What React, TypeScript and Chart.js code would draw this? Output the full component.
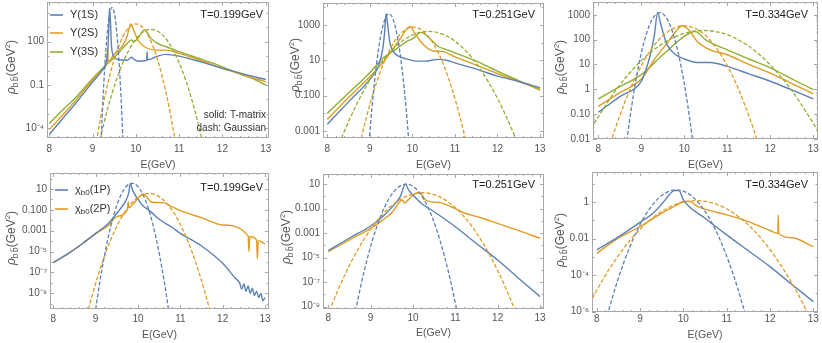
import React, { useEffect, useRef } from "react";
import { Chart, registerables } from "chart.js";
Chart.register(...registerables);

// ---------------- data (E in GeV, value = log10 of rho in GeV^2) ----------------
const E_TICKS = [8, 9, 10, 11, 12, 13];
const E_TICK_LABELS = ["8", "9", "10", "11", "12", "13"];
const TEMPS = ["T=0.199GeV", "T=0.251GeV", "T=0.334GeV"];
const UPS_NAMES = ["Υ(1S)", "Υ(2S)", "Υ(3S)"];
const CHI_STATES = ["(1P)", "(2P)"];

const Y_EXP_T199_UPS = [2, -1, -4];
const Y_LAB_T199_UPS = ["100", "0.1", "10⁻⁴"];
const Y_EXP_T251_UPS = [3, 1, -1, -3];
const Y_LAB_T251_UPS = ["1000", "10", "0.100", "0.001"];
const Y_EXP_T334_UPS = [3, 2, 1, 0, -1, -2];
const Y_LAB_T334_UPS = ["1000", "100", "10", "1", "0.10", "0.01"];
const Y_EXP_CHI_LOW = [1, -1, -3, -5, -7, -9];
const Y_LAB_CHI_LOW = ["10", "0.100", "0.001", "10⁻⁵", "10⁻⁷", "10⁻⁹"];
const Y_EXP_T334_CHI = [0, -2, -4, -6];
const Y_LAB_T334_CHI = ["1", "0.01", "10⁻⁴", "10⁻⁶"];

// T = 0.199 GeV, Upsilon
const Y1S_T199_TM = [[8,-4.43],[8.3,-3.35],[8.6,-2.3],[9,-0.8],[9.2,-0.08],[9.3,0.45],[9.34,1.0],[9.37,2.5],[9.39,4.3],[9.41,3.6],[9.44,1.6],[9.5,0.95],[9.6,0.75],[9.8,0.72],[9.9,0.92],[9.95,0.8],[10.05,0.65],[10.2,0.68],[10.25,0.7],[10.26,1.3],[10.27,0.75],[10.5,1.0],[10.7,1.12],[11,1.0],[11.5,0.6],[12,0.15],[12.5,-0.25],[13,-0.62]];
const Y2S_T199_TM = [[8,-4.09],[8.3,-3.1],[8.6,-2.1],[9,-0.65],[9.2,0.0],[9.33,0.55],[9.35,1.5],[9.36,0.6],[9.5,1.15],[9.7,1.75],[9.8,2.4],[9.88,3.23],[9.95,2.8],[10.05,2.1],[10.2,1.65],[10.5,1.42],[10.7,1.42],[11,1.19],[11.5,0.7],[12,0.15],[12.5,-0.3],[13,-0.78]];
const Y3S_T199_TM = [[8,-3.67],[8.3,-2.75],[8.6,-1.9],[9,-0.55],[9.3,0.35],[9.5,0.9],[9.8,1.88],[9.9,2.12],[9.95,2.0],[10.05,2.25],[10.2,2.81],[10.35,2.23],[10.5,1.88],[10.7,1.65],[11,1.31],[11.5,0.8],[12,0.26],[12.5,-0.35],[12.7,-0.55],[13,-1.0]];
const Y1S_T199_G = [[9.17,-7.0],[9.2,-4.68],[9.24,-2.0],[9.28,0.19],[9.32,1.93],[9.36,3.21],[9.4,4.02],[9.45,4.38],[9.5,4.02],[9.54,3.21],[9.58,1.93],[9.62,0.19],[9.66,-2.0],[9.7,-4.68],[9.73,-7.0]];
const Y2S_T199_G = [[9.0,-6.57],[9.1,-4.7],[9.2,-3.04],[9.3,-1.57],[9.4,-0.3],[9.5,0.78],[9.6,1.66],[9.7,2.35],[9.8,2.84],[9.9,3.13],[10,3.23],[10.1,3.13],[10.2,2.84],[10.3,2.35],[10.4,1.66],[10.5,0.78],[10.6,-0.3],[10.7,-1.57],[10.8,-3.04],[10.9,-4.7],[11.0,-6.57]];
const Y3S_T199_G = [[9.05,-6.4],[9.15,-5.05],[9.35,-2.63],[9.55,-0.65],[9.75,0.88],[9.95,1.98],[10.15,2.64],[10.35,2.86],[10.55,2.64],[10.75,1.98],[10.95,0.88],[11.15,-0.65],[11.35,-2.63],[11.55,-5.05],[11.65,-6.4]];

// T = 0.251 GeV, Upsilon
const Y1S_T251_TM = [[8,-2.61],[8.5,-1.35],[9,-0.08],[9.2,0.66],[9.3,1.6],[9.35,2.63],[9.38,3.62],[9.42,3.0],[9.47,2.0],[9.55,1.5],[9.7,1.2],[9.9,1.05],[10.1,0.95],[10.3,0.95],[10.6,1.05],[10.8,1.0],[11,0.85],[11.5,0.5],[12,0.1],[12.5,-0.2],[13,-0.55]];
const Y2S_T251_TM = [[8,-2.33],[8.5,-1.1],[9,0.07],[9.3,0.85],[9.5,1.5],[9.7,2.16],[9.85,2.7],[9.95,2.9],[10.05,2.55],[10.15,2.2],[10.3,1.79],[10.5,1.52],[10.7,1.5],[11,1.19],[11.5,0.72],[12,0.25],[12.5,-0.2],[13,-0.64]];
const Y3S_T251_TM = [[8,-2.0],[8.5,-0.85],[9,0.29],[9.3,1.1],[9.6,1.6],[9.9,2.1],[10.0,2.2],[10.2,2.57],[10.4,2.25],[10.6,1.79],[10.8,1.6],[11,1.41],[11.5,0.95],[12,0.38],[12.5,-0.15],[13,-0.68]];
const Y1S_T251_G = [[8.95,-4.63],[9.05,-1.66],[9.15,0.65],[9.25,2.3],[9.35,3.29],[9.45,3.62],[9.55,3.29],[9.65,2.3],[9.75,0.65],[9.85,-1.66],[9.95,-4.63]];
const Y2S_T251_G = [[8.62,-5.4],[8.82,-3.18],[9.02,-1.33],[9.22,0.18],[9.42,1.36],[9.62,2.2],[9.82,2.7],[10.02,2.87],[10.22,2.7],[10.42,2.2],[10.62,1.36],[10.82,0.18],[11.02,-1.33],[11.22,-3.18],[11.42,-5.4]];
const Y3S_T251_G = [[8.18,-4.34],[8.38,-3.13],[8.78,-1.06],[9.18,0.56],[9.58,1.71],[9.98,2.4],[10.38,2.63],[10.78,2.4],[11.18,1.71],[11.58,0.56],[11.98,-1.06],[12.38,-3.13],[12.58,-4.34]];

// T = 0.334 GeV, Upsilon
const Y1S_T334_TM = [[8,-0.93],[8.5,-0.3],[9,0.32],[9.1,0.75],[9.2,1.32],[9.3,2.13],[9.38,3.09],[9.45,2.65],[9.52,2.2],[9.6,1.79],[9.8,1.39],[10,1.22],[10.3,1.08],[10.6,1.08],[11,0.92],[11.5,0.62],[12,0.32],[12.5,-0.03],[13,-0.39]];
const Y2S_T334_TM = [[8,-0.69],[8.5,-0.14],[9,0.41],[9.3,1.19],[9.6,1.86],[9.8,2.33],[9.95,2.56],[10.1,2.4],[10.3,1.93],[10.6,1.59],[11,1.39],[11.5,1.0],[12,0.65],[12.5,0.23],[13,-0.19]];
const Y3S_T334_TM = [[8,-0.39],[8.5,0.1],[9,0.59],[9.5,1.39],[10,2.13],[10.25,2.33],[10.5,1.99],[10.8,1.73],[11,1.59],[11.5,1.22],[12,0.86],[12.5,0.42],[13,-0.02]];
const Y1S_T334_G = [[8.63,-2.57],[8.73,-1.24],[8.83,-0.09],[8.93,0.88],[9.03,1.68],[9.13,2.29],[9.23,2.74],[9.33,3.0],[9.43,3.09],[9.53,3.0],[9.63,2.74],[9.73,2.29],[9.83,1.68],[9.93,0.88],[10.03,-0.09],[10.13,-1.24],[10.23,-2.57]];
const Y2S_T334_G = [[8.2,-2.66],[8.4,-1.56],[8.8,0.24],[9.2,1.53],[9.6,2.3],[10,2.56],[10.4,2.3],[10.8,1.53],[11.2,0.24],[11.6,-1.56],[11.8,-2.66]];
const Y3S_T334_G = [[7.9,-1.38],[8.45,0.06],[8.95,1.07],[9.45,1.79],[9.95,2.23],[10.45,2.37],[10.95,2.23],[11.45,1.79],[11.95,1.07],[12.45,0.06],[12.95,-1.24],[13.1,-1.68]];

// T = 0.199 GeV, chi_b0
const C1P_T199_TM = [[8,-6.06],[8.35,-5.2],[8.7,-4.2],[9,-3.25],[9.3,-2.3],[9.5,-1.33],[9.7,-0.21],[9.78,0.6],[9.82,1.54],[9.87,0.9],[10,0.0],[10.1,-0.53],[10.3,-1.17],[10.5,-1.9],[10.8,-2.67],[11,-3.25],[11.5,-4.46],[12,-6.12],[12.3,-7.56],[12.4,-8.0],[12.45,-8.6],[12.5,-8.1],[12.55,-8.8],[12.6,-8.3],[12.65,-9.0],[12.7,-8.5],[12.75,-9.2],[12.8,-8.8],[12.85,-9.4],[12.9,-9.0],[12.95,-9.7],[13.0,-9.4]];
const C2P_T199_TM = [[8,-6.06],[8.35,-5.2],[8.7,-4.2],[9,-3.3],[9.3,-2.5],[9.5,-1.65],[9.75,-0.95],[9.77,-0.21],[9.79,-0.8],[9.9,-0.37],[10.0,0.1],[10.12,0.52],[10.3,-0.21],[10.4,-0.3],[10.6,-0.31],[10.8,-0.69],[11,-1.08],[11.5,-1.75],[12,-2.45],[12.6,-3.5],[12.62,-5.0],[12.64,-3.55],[12.8,-3.9],[12.82,-5.65],[12.84,-3.95],[13,-4.27]];
const C1P_T199_G = [[9.0,-10.52],[9.1,-7.87],[9.2,-5.56],[9.3,-3.57],[9.4,-1.91],[9.5,-0.57],[9.6,0.44],[9.7,1.12],[9.78,1.44],[9.86,1.54],[9.94,1.44],[10.02,1.12],[10.12,0.44],[10.22,-0.57],[10.32,-1.91],[10.42,-3.57],[10.52,-5.56],[10.62,-7.87],[10.72,-10.52]];
const C2P_T199_G = [[8.76,-11.64],[8.86,-10.06],[9.06,-7.24],[9.26,-4.85],[9.46,-2.9],[9.66,-1.37],[9.86,-0.29],[10.06,0.36],[10.26,0.58],[10.46,0.36],[10.66,-0.29],[10.86,-1.37],[11.06,-2.9],[11.26,-4.85],[11.46,-7.24],[11.66,-10.06],[11.76,-11.64]];

// T = 0.251 GeV, chi_b0
const C1P_T251_TM = [[8,-4.43],[8.5,-3.4],[9,-2.42],[9.3,-1.6],[9.5,-0.9],[9.7,-0.03],[9.82,1.0],[9.9,0.5],[10,0.1],[10.2,-0.58],[10.5,-1.26],[11,-2.48],[11.5,-3.85],[12,-5.2],[12.5,-6.7],[13,-8.18]];
const C2P_T251_TM = [[8,-4.52],[8.5,-3.55],[9,-2.61],[9.3,-1.9],[9.5,-1.34],[9.75,-0.3],[9.8,-0.55],[9.9,-0.25],[10.0,0.1],[10.15,0.29],[10.3,-0.3],[10.45,-0.45],[10.65,-0.52],[10.9,-0.85],[11.2,-1.34],[11.6,-1.75],[12,-2.21],[12.5,-2.8],[13,-3.43]];
const C1P_T251_G = [[8.64,-9.37],[8.84,-6.2],[9.04,-3.61],[9.24,-1.59],[9.44,-0.15],[9.64,0.71],[9.84,1.0],[10.04,0.71],[10.24,-0.15],[10.44,-1.59],[10.64,-3.61],[10.84,-6.2],[11.04,-9.37]];
const C2P_T251_G = [[7.92,-10.29],[8.22,-7.71],[8.62,-4.83],[9.02,-2.59],[9.42,-0.99],[9.82,-0.03],[10.22,0.29],[10.62,-0.03],[11.02,-0.99],[11.42,-2.59],[11.82,-4.83],[12.22,-7.71],[12.52,-10.29]];

// T = 0.334 GeV, chi_b0
const C1P_T334_TM = [[8,-2.61],[8.5,-1.9],[9,-1.1],[9.3,-0.6],[9.5,-0.1],[9.75,0.59],[9.8,0.64],[9.9,0.64],[10,0.13],[10.5,-0.88],[11,-1.79],[11.5,-2.66],[12,-3.53],[12.5,-4.5],[13,-5.45]];
const C2P_T334_TM = [[8,-2.8],[8.5,-1.97],[9,-1.33],[9.5,-0.6],[9.85,-0.15],[10.0,0.04],[10.15,0.04],[10.3,-0.2],[10.5,-0.38],[11,-0.69],[11.5,-1.06],[12,-1.55],[12.18,-1.7],[12.19,-0.69],[12.2,-1.72],[12.5,-1.95],[13,-2.43]];
const C1P_T334_G = [[8.24,-6.23],[8.44,-4.61],[8.64,-3.21],[8.84,-2.02],[9.04,-1.05],[9.24,-0.29],[9.44,0.25],[9.64,0.57],[9.84,0.68],[10.04,0.57],[10.24,0.25],[10.44,-0.29],[10.64,-1.05],[10.84,-2.02],[11.04,-3.21],[11.24,-4.61],[11.44,-6.23]];
const C2P_T334_G = [[7.9,-5.27],[8.0,-4.83],[8.3,-3.63],[8.8,-2.0],[9.3,-0.84],[9.8,-0.14],[10.3,0.09],[10.8,-0.14],[11.3,-0.84],[11.8,-2.0],[12.3,-3.63],[12.6,-4.83],[12.9,-6.2]];

// ---------------- styles / layout ----------------
const BLUE = "#5E81B5";
const ORANGE = "#E19C24";
const GREEN = "#8FB032";
const FRAME = "#a8a8a8";
const LABEL = "#555555";
const FAM = '"Liberation Sans", Arial, sans-serif';
const CW = 274;
const CH = 172;

const PANELS = [
  { left: 0, top: 0, area: { l: 47, t: 2, r: 269, b: 138 }, xMin: 7.947, xMax: 13.076, yMin: -4.67, yMax: 4.75,
    yExp: Y_EXP_T199_UPS, yLab: Y_LAB_T199_UPS, tickPad: 5, titlePad: 1, rho: [11.7, 67], temp: 0, tempPos: [263, 15], legend: "ups", note: true,
    solid: [[Y1S_T199_TM, BLUE], [Y2S_T199_TM, ORANGE], [Y3S_T199_TM, GREEN]],
    dash: [[Y1S_T199_G, BLUE], [Y2S_T199_G, ORANGE], [Y3S_T199_G, GREEN]] },
  { left: 274, top: 0, area: { l: 49, t: 3, r: 270, b: 138 }, xMin: 7.899, xMax: 13.094, yMin: -3.39, yMax: 4.23,
    yExp: Y_EXP_T251_UPS, yLab: Y_LAB_T251_UPS, tickPad: 5, titlePad: 1, rho: [21.7, 65], temp: 1, tempPos: [261, 15], legend: null, note: false,
    solid: [[Y1S_T251_TM, BLUE], [Y2S_T251_TM, ORANGE], [Y3S_T251_TM, GREEN]],
    dash: [[Y1S_T251_G, BLUE], [Y2S_T251_G, ORANGE], [Y3S_T251_G, GREEN]] },
  { left: 548, top: 0, area: { l: 45, t: 2, r: 270, b: 139 }, xMin: 7.877, xMax: 13.109, yMin: -2.01, yMax: 3.52,
    yExp: Y_EXP_T334_UPS, yLab: Y_LAB_T334_UPS, tickPad: 4, titlePad: 1, rho: [12.7, 67], temp: 2, tempPos: [260, 15], legend: null, note: false,
    solid: [[Y1S_T334_TM, BLUE], [Y2S_T334_TM, ORANGE], [Y3S_T334_TM, GREEN]],
    dash: [[Y1S_T334_G, BLUE], [Y2S_T334_G, ORANGE], [Y3S_T334_G, GREEN]] },
  { left: 0, top: 171, area: { l: 50, t: 2, r: 269, b: 138 }, xMin: 7.922, xMax: 13.094, yMin: -10.5, yMax: 2.53,
    yExp: Y_EXP_CHI_LOW, yLab: Y_LAB_CHI_LOW, tickPad: 4, titlePad: 2, rho: [11.7, 67], temp: 0, tempPos: [263, 17], legend: "chi", note: false,
    solid: [[C1P_T199_TM, BLUE], [C2P_T199_TM, ORANGE]],
    dash: [[C1P_T199_G, BLUE], [C2P_T199_G, ORANGE]] },
  { left: 274, top: 171, area: { l: 49, t: 3, r: 270, b: 138 }, xMin: 7.875, xMax: 13.094, yMin: -9.19, yMax: 1.82,
    yExp: Y_EXP_CHI_LOW, yLab: Y_LAB_CHI_LOW, tickPad: 3, titlePad: 3.5, rho: [12.7, 66], temp: 1, tempPos: [261, 14], legend: null, note: false,
    solid: [[C1P_T251_TM, BLUE], [C2P_T251_TM, ORANGE]],
    dash: [[C1P_T251_G, BLUE], [C2P_T251_G, ORANGE]] },
  { left: 548, top: 171, area: { l: 44, t: 1, r: 270, b: 141 }, xMin: 7.891, xMax: 13.108, yMin: -6.02, yMax: 1.66,
    yExp: Y_EXP_T334_CHI, yLab: Y_LAB_T334_CHI, tickPad: 1.5, titlePad: 2, rho: [12.7, 69], temp: 2, tempPos: [260, 14], legend: null, note: false,
    solid: [[C1P_T334_TM, BLUE], [C2P_T334_TM, ORANGE]],
    dash: [[C1P_T334_G, BLUE], [C2P_T334_G, ORANGE]] },
];

function drawParts(ctx, parts, x0, y0, centered) {
  let total = 0;
  for (const p of parts) { ctx.font = p.f; total += ctx.measureText(p.t).width; }
  let x = centered ? x0 - total / 2 : x0;
  for (const p of parts) {
    ctx.font = p.f;
    ctx.fillText(p.t, x, y0 + p.dy);
    x += ctx.measureText(p.t).width;
  }
}

function makeDecor(p) {
  return {
    id: "decor",
    afterDraw(chart) {
      const { ctx, chartArea: a } = chart;
      const xs = chart.scales.x;
      const ys = chart.scales.y;
      ctx.save();
      ctx.strokeStyle = FRAME;
      ctx.lineWidth = 1;
      ctx.strokeRect(Math.round(a.left) + 0.5, Math.round(a.top) + 0.5, Math.round(a.right - a.left) - 1, Math.round(a.bottom - a.top) - 1);
      const seg = (x1, y1, x2, y2) => { ctx.beginPath(); ctx.moveTo(x1, y1); ctx.lineTo(x2, y2); ctx.stroke(); };
      for (let i = 0; i <= 25; i++) {
        const v = 8 + i * 0.2;
        const major = i % 5 === 0;
        const len = major ? 4 : 2;
        const px = Math.round(xs.getPixelForValue(v)) + 0.5;
        seg(px, a.bottom, px, a.bottom - len);
        seg(px, a.top, px, a.top + len);
      }
      const ppd = (a.bottom - a.top) / (p.yMax - p.yMin);
      for (let n = Math.floor(p.yMin); n <= Math.ceil(p.yMax); n++) {
        for (let m = 1; m <= 9; m++) {
          if (m > 1 && ppd < 20) break;
          const lg = n + Math.log10(m);
          if (lg < p.yMin || lg > p.yMax) continue;
          const py = Math.round(ys.getPixelForValue(Math.pow(10, lg))) + 0.5;
          const len = m === 1 ? (p.yExp.includes(n) ? 4 : 2.5) : 1.5;
          seg(a.left, py, a.left + len, py);
          seg(a.right, py, a.right - len, py);
        }
      }
      // y-axis title (rich text, rotated)
      ctx.fillStyle = LABEL;
      ctx.textBaseline = "middle";
      ctx.textAlign = "left";
      ctx.save();
      ctx.translate(p.rho[0], p.rho[1]);
      ctx.rotate(-Math.PI / 2);
      drawParts(ctx, [
        { t: "ρ", f: `italic 12px ${FAM}`, dy: 0 },
        { t: "b", f: `8.5px ${FAM}`, dy: 3.5 },
        { t: " ", f: `5px ${FAM}`, dy: 3.5 },
        { t: "b\u0304", f: `8.5px ${FAM}`, dy: 3.5 },
        { t: "(GeV", f: `12px ${FAM}`, dy: 0 },
        { t: "2", f: `8px ${FAM}`, dy: -4 },
        { t: ")", f: `12px ${FAM}`, dy: 0 },
      ], 0, 0, true);
      ctx.restore();
      // temperature label
      ctx.fillStyle = "#222222";
      ctx.font = `11px ${FAM}`;
      ctx.textAlign = "right";
      ctx.fillText(TEMPS[p.temp], p.tempPos[0], p.tempPos[1]);
      if (p.note) {
        ctx.fillStyle = "#333333";
        ctx.font = `10px ${FAM}`;
        ctx.fillText("solid: T-matrix", 266, 115);
        ctx.fillText("dash: Gaussian", 266, 128);
      }
      ctx.textAlign = "left";
      if (p.legend === "ups") {
        const ys0 = [15, 33, 52];
        p.solid.forEach((s, i) => {
          ctx.strokeStyle = s[1];
          ctx.lineWidth = 1.6;
          seg(50, ys0[i], 63, ys0[i]);
          ctx.fillStyle = "#333333";
          ctx.font = `11px ${FAM}`;
          ctx.fillText(UPS_NAMES[i], 70, ys0[i]);
        });
      }
      if (p.legend === "chi") {
        const ys0 = [19, 38];
        p.solid.forEach((s, i) => {
          ctx.strokeStyle = s[1];
          ctx.lineWidth = 1.6;
          seg(55, ys0[i], 68, ys0[i]);
          ctx.fillStyle = "#333333";
          drawParts(ctx, [
            { t: "χ", f: `11px ${FAM}`, dy: 0 },
            { t: "b0", f: `8px ${FAM}`, dy: 3 },
            { t: CHI_STATES[i], f: `11px ${FAM}`, dy: 0 },
          ], 75, ys0[i], false);
        });
      }
      ctx.restore();
    },
  };
}

function toPoints(arr) {
  return arr.map((d) => ({ x: d[0], y: Math.pow(10, d[1]) }));
}

function buildConfig(p) {
  const datasets = [];
  p.dash.forEach((s) => datasets.push({
    data: toPoints(s[0]), borderColor: s[1], borderWidth: 1.3, borderDash: [4, 2],
    pointRadius: 0, fill: false, cubicInterpolationMode: "monotone",
  }));
  p.solid.forEach((s) => datasets.push({
    data: toPoints(s[0]), borderColor: s[1], borderWidth: 1.4,
    pointRadius: 0, fill: false, cubicInterpolationMode: "monotone",
  }));
  const tickFont = { size: 10, family: FAM };
  return {
    type: "line",
    data: { datasets },
    options: {
      animation: false,
      responsive: false,
      devicePixelRatio: 1,
      events: [],
      layout: { padding: { left: 0, top: p.area.t, right: CW - p.area.r, bottom: 0 } },
      plugins: { legend: { display: false }, tooltip: { enabled: false } },
      scales: {
        x: {
          type: "linear", min: p.xMin, max: p.xMax,
          grid: { display: false, drawTicks: false }, border: { display: false },
          afterBuildTicks: (s) => { s.ticks = E_TICKS.map((v) => ({ value: v })); },
          afterFit: (s) => { s.height = CH - p.area.b; s.paddingLeft = 0; s.paddingRight = 0; },
          ticks: { callback: (v, i) => E_TICK_LABELS[i], font: tickFont, color: LABEL, padding: p.tickPad, maxRotation: 0, autoSkip: false },
          title: { display: true, text: "E(GeV)", font: { size: 10.5, family: FAM }, color: LABEL, padding: { top: 0, bottom: p.titlePad } },
        },
        y: {
          type: "logarithmic", min: Math.pow(10, p.yMin), max: Math.pow(10, p.yMax),
          grid: { display: false, drawTicks: false }, border: { display: false },
          afterBuildTicks: (s) => { s.ticks = p.yExp.map((n) => ({ value: Math.pow(10, n) })); },
          afterFit: (s) => { s.width = p.area.l; s.paddingTop = 0; s.paddingBottom = 0; },
          ticks: { callback: (v, i) => p.yLab[i], font: tickFont, color: LABEL, padding: 3, autoSkip: false },
        },
      },
    },
    plugins: [makeDecor(p)],
  };
}

function Panel({ p }) {
  const ref = useRef(null);
  useEffect(() => {
    const chart = new Chart(ref.current, buildConfig(p));
    return () => chart.destroy();
  }, [p]);
  return (
    <canvas
      ref={ref}
      width={CW}
      height={CH}
      style={{ position: "absolute", left: p.left, top: p.top, width: CW, height: CH }}
    />
  );
}

export default function App() {
  return (
    <div style={{ position: "absolute", left: 0, top: 0, width: 822, height: 343, background: "#ffffff", overflow: "hidden" }}>
      {PANELS.map((p, i) => <Panel key={i} p={p} />)}
    </div>
  );
}
